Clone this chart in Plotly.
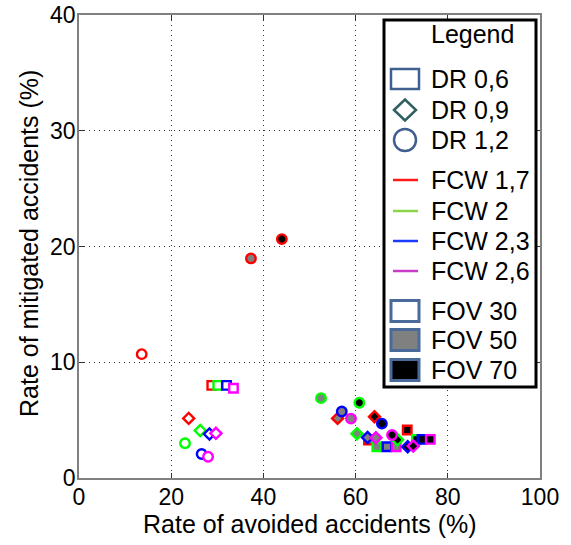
import plotly.graph_objects as go

# ---------------- data ----------------
fcw_labels = ["FCW 1,7", "FCW 2", "FCW 2,3", "FCW 2,6"]
fcw_colors = ["#FF0000", "#00FF00", "#0000FF", "#FF00FF"]
dr_labels = ["DR 0,6", "DR 0,9", "DR 1,2"]
dr_symbols = ["square", "diamond", "circle"]
fov_labels = ["FOV 30", "FOV 50", "FOV 70"]
fov_fills = ["#FFFFFF", "#808080", "#000000"]

# avoided (x) / mitigated (y) per DR, rows = FOV 30/50/70, cols = FCW 1.7/2/2.3/2.6
dr06_avoided = [[28.8, 30.1, 32.0, 33.5], [62.8, 64.6, 66.8, 68.8], [71.2, 73.2, 74.4, 76.2]]
dr06_mitigated = [[8.0, 8.0, 8.0, 7.75], [3.28, 2.7, 2.7, 2.7], [4.15, 3.34, 3.34, 3.34]]
dr09_avoided = [[23.8, 26.3, 28.3, 29.7], [56.1, 60.3, 62.6, 64.4], [64.1, 69.1, 71.3, 72.5]]
dr09_mitigated = [[5.15, 4.1, 3.8, 3.86], [5.15, 3.83, 3.5, 3.48], [5.3, 3.3, 2.7, 2.76]]
dr12_avoided = [[13.6, 23.0, 26.6, 28.0], [37.3, 52.5, 57.0, 59.0], [44.0, 60.8, 65.7, 67.9]]
dr12_mitigated = [[10.7, 3.0, 2.07, 1.84], [18.97, 6.9, 5.75, 5.13], [20.64, 6.5, 4.7, 3.71]]

x_ticks = [0, 20, 40, 60, 80, 100]
y_ticks = [0, 10, 20, 30, 40]
x_title = "Rate of avoided accidents (%)"
y_title = "Rate of mitigated accidents (%)"

FONT = "Liberation Sans, Arial, sans-serif"
W, H = 571, 545
L, R, T, B = 79, 540, 15, 478

fig = go.Figure()
all_x = [dr06_avoided, dr09_avoided, dr12_avoided]
all_y = [dr06_mitigated, dr09_mitigated, dr12_mitigated]
sizes = [8.5, 8.5, 9.5]
for d in range(3):
    for f in range(3):
        fig.add_trace(go.Scatter(
            x=all_x[d][f], y=all_y[d][f], mode="markers", showlegend=False,
            hoverinfo="x+y",
            marker=dict(symbol=dr_symbols[d], size=sizes[d], color=fov_fills[f],
                        line=dict(color=fcw_colors, width=2.4)),
        ))

# ---------------- manual legend (pixel helper) ----------------
def px(x):
    return (x - L) / (R - L)

def py(y):
    return (B - y) / (B - T)

shapes = []
annotations = []
shapes.append(dict(type="rect", xref="paper", yref="paper", x0=px(384), x1=px(536),
                   y0=py(387), y1=py(20), line=dict(color="black", width=3),
                   fillcolor="white", layer="above"))
annotations.append(dict(text="Legend", xref="paper", yref="paper", x=px(472), y=py(34),
                        showarrow=False, xanchor="center", yanchor="middle",
                        font=dict(size=25, color="black", family=FONT)))
cx = 405
tx = 429
dr_rows = [79, 110, 140]
fcw_rows = [180, 211, 241, 271]
fov_rows = [311, 340, 370]
legend_line_colors = ["#FF1A1A", "#8CD44A", "#1A3CFF", "#C83CC8"]
sym_edge = ["#3F5F8F", "#2F5F60", "#3F5F8F"]

y0 = dr_rows[0]
shapes.append(dict(type="rect", xref="paper", yref="paper", x0=px(cx - 14), x1=px(cx + 14),
                   y0=py(y0 + 10), y1=py(y0 - 10), line=dict(color=sym_edge[0], width=2.5),
                   fillcolor="white", layer="above"))
y1 = dr_rows[1]
path = "M {} {} L {} {} L {} {} L {} {} Z".format(
    px(cx - 11), py(y1), px(cx), py(y1 - 10.5), px(cx + 11), py(y1), px(cx), py(y1 + 10.5))
shapes.append(dict(type="path", xref="paper", yref="paper", path=path,
                   line=dict(color=sym_edge[1], width=2.5), fillcolor="white", layer="above"))
y2 = dr_rows[2]
shapes.append(dict(type="circle", xref="paper", yref="paper", x0=px(cx - 11), x1=px(cx + 11),
                   y0=py(y2 + 11), y1=py(y2 - 11), line=dict(color=sym_edge[2], width=2.5),
                   fillcolor="white", layer="above"))
for lab, yy in zip(dr_labels, dr_rows):
    annotations.append(dict(text=lab, xref="paper", yref="paper", x=px(tx), y=py(yy),
                            showarrow=False, xanchor="left", yanchor="middle",
                            font=dict(size=25, color="black", family=FONT)))
for lab, yy, col in zip(fcw_labels, fcw_rows, legend_line_colors):
    shapes.append(dict(type="line", xref="paper", yref="paper", x0=px(393), x1=px(418),
                       y0=py(yy), y1=py(yy), line=dict(color=col, width=2.5), layer="above"))
    annotations.append(dict(text=lab, xref="paper", yref="paper", x=px(tx), y=py(yy),
                            showarrow=False, xanchor="left", yanchor="middle",
                            font=dict(size=25, color="black", family=FONT)))
for lab, yy, fc in zip(fov_labels, fov_rows, fov_fills):
    shapes.append(dict(type="rect", xref="paper", yref="paper", x0=px(cx - 14), x1=px(cx + 14),
                       y0=py(yy + 10.5), y1=py(yy - 10.5), line=dict(color="#4A6A9A", width=3),
                       fillcolor=fc, layer="above"))
    annotations.append(dict(text=lab, xref="paper", yref="paper", x=px(tx), y=py(yy),
                            showarrow=False, xanchor="left", yanchor="middle",
                            font=dict(size=25, color="black", family=FONT)))

# axis titles
annotations.append(dict(text=x_title, xref="paper", yref="paper", x=px(309.5), y=py(524),
                        showarrow=False, xanchor="center", yanchor="middle",
                        font=dict(size=25, color="black", family=FONT)))
annotations.append(dict(text=y_title, xref="paper", yref="paper", x=px(29), y=py(244),
                        showarrow=False, xanchor="center", yanchor="middle", textangle=-90,
                        font=dict(size=25, color="black", family=FONT)))

axis_common = dict(
    showgrid=True, gridcolor="#333333", griddash="1px,4px", gridwidth=1,
    showline=True, linecolor="#808080", linewidth=1.5, mirror="ticks",
    ticks="inside", ticklen=5, tickcolor="#333333", tickwidth=1,
    zeroline=False, automargin=False,
    tickfont=dict(size=23, color="black", family=FONT),
)
fig.update_xaxes(range=[0, 100], tickvals=x_ticks, ticktext=[str(v) for v in x_ticks],
                 ticklabelstandoff=-2, **axis_common)
fig.update_yaxes(range=[0, 40], tickvals=y_ticks, ticktext=[str(v) for v in y_ticks],
                 ticklabelstandoff=-3, **axis_common)

fig.update_layout(
    width=W, height=H,
    margin=dict(l=L, r=W - R, t=T, b=H - B),
    plot_bgcolor="white", paper_bgcolor="white",
    shapes=shapes, annotations=annotations, showlegend=False,
    font=dict(family=FONT, color="black"),
)

fig.write_html("out.html", config={"displayModeBar": False},
               post_script="document.body.style.margin='0px';document.body.style.padding='0px';")
